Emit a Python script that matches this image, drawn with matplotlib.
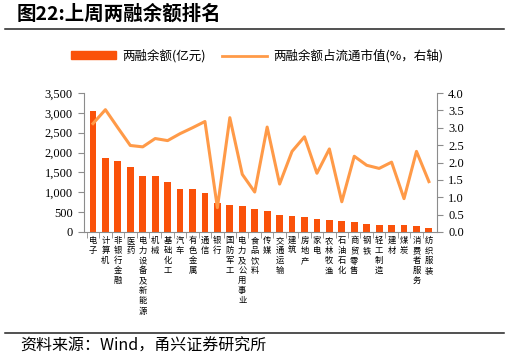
#上周两融余额排名：柱状图(两融余额) + 折线(占流通市值，右轴)
import matplotlib
matplotlib.use('Agg')
import matplotlib.pyplot as plt
from matplotlib.patches import Patch
from matplotlib.lines import Line2D

plt.rcParams['font.family'] = ['Noto Sans CJK SC', 'DejaVu Sans']

#行业名称
行业 = ['电子', '计算机', '非银行金融', '医药', '电力设备及新能源', '机械', '基础化工',
      '汽车', '有色金属', '通信', '银行', '国防军工', '电力及公用事业', '食品饮料',
      '传媒', '交通运输', '建筑', '房地产', '家电', '农林牧渔', '石油石化', '商贸零售',
      '钢铁', '轻工制造', '建材', '煤炭', '消费者服务', '纺织服装']
#两融余额(亿元)
余额 = [3050, 1865, 1795, 1645, 1410, 1405, 1250, 1090, 1075, 985, 740, 685, 650,
      570, 525, 425, 400, 370, 320, 295, 272, 240, 198, 180, 172, 165, 148, 100]
#两融余额占流通市值(%)
占比 = [3.12, 3.52, 3.00, 2.49, 2.45, 2.69, 2.63, 2.83, 3.00, 3.18, 0.70, 3.29, 1.66,
      1.15, 3.02, 1.38, 2.32, 2.74, 1.69, 2.39, 0.87, 2.18, 1.92, 1.83, 2.01, 0.96,
      2.32, 1.45]

柱色 = '#FA520A'
线色 = '#FF9A48'
轴色 = '#8C8C8C'
数字字体 = 'Liberation Serif'

fig = plt.figure(figsize=(5.09, 3.6), dpi=100)
ax = fig.add_axes([84/509, 1-232/360, (437-84)/509, (232-93)/360])

x = list(range(len(行业)))
ax.bar(x, 余额, width=0.55, color=柱色, zorder=2)
ax.set_xlim(-0.72, len(行业) - 0.35)
ax.set_ylim(0, 3500)
ax.set_yticks(range(0, 3501, 500))
ax.set_yticklabels([f'{v:,}' for v in range(0, 3501, 500)],
                   fontfamily=数字字体, fontsize=9)

#x轴标签竖排
ax.set_xticks(x)
ax.set_xticklabels(['\n'.join(s) for s in 行业], fontsize=6, linespacing=1.15,
                   va='top')
ax.tick_params(axis='x', length=0, pad=3)
ax.set_xticks([i + 0.5 for i in x[:-1]] + [-0.5], minor=True)
ax.tick_params(axis='x', which='minor', length=4, color=轴色, direction='out')
ax.tick_params(axis='y', length=4, color=轴色, pad=4)

ax2 = ax.twinx()
ax2.plot(x, 占比, color=线色, lw=2.2, zorder=3)
ax2.set_ylim(0, 4)
ax2.set_yticks([i / 2 for i in range(9)])
ax2.set_yticklabels([f'{i / 2:.1f}' for i in range(9)], fontfamily=数字字体, fontsize=9)
ax2.tick_params(axis='y', length=4, color=轴色, pad=4)

for a in (ax, ax2):
    a.spines['top'].set_visible(False)
    for s in ('left', 'right', 'bottom'):
        a.spines[s].set_color(轴色)
ax.spines['right'].set_visible(False)
ax2.spines['left'].set_visible(False)
ax2.spines['bottom'].set_visible(False)

#图例
handles = [Patch(color=柱色), Line2D([], [], color=线色, lw=2)]
labels = ['两融余额(亿元)', '两融余额占流通市值(%，右轴)']
fig.legend(handles, labels, loc='center', bbox_to_anchor=(0.505, 1-56/360), ncol=2,
           frameon=False, fontsize=9, handlelength=3.6, handleheight=0.6,
           handletextpad=0.5, columnspacing=1.3)

#标题和来源
fig.text(17/509, 1-14/360, '图22:上周两融余额排名', fontsize=14, fontweight='bold',
         va='center')
fig.add_artist(Line2D([5/509, 504/509], [1-29/360] * 2, color='#222222', lw=1.1,
                      transform=fig.transFigure))
fig.add_artist(Line2D([5/509, 504/509], [1-333/360] * 2, color='#222222', lw=1.1,
                      transform=fig.transFigure))
fig.text(20/509, 1-346/360, '资料来源：Wind，甬兴证券研究所', fontsize=11.5,
         va='center')

fig.savefig('out.png', dpi=100)
